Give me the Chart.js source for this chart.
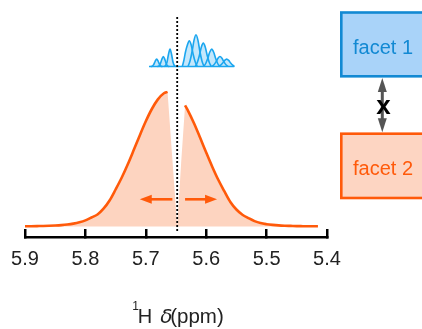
<!DOCTYPE html>
<html>
<head>
<meta charset="utf-8">
<script src="https://cdn.jsdelivr.net/npm/chart.js@4.4.1/dist/chart.umd.min.js"></script>
<style>
  html, body { margin: 0; padding: 0; background: #fff; }
  canvas { display: block; }
</style>
</head>
<body>
<canvas id="c" width="422" height="329"></canvas>
<script>
// Broad (orange) resonance: chemical shift in ppm and intensity (a.u.)
const orangePpm = [5.90, 5.89, 5.88, 5.87, 5.86, 5.85, 5.84, 5.83, 5.82, 5.81, 5.80, 5.79, 5.78, 5.77, 5.76,
  5.75, 5.74, 5.73, 5.72, 5.71, 5.70, 5.69, 5.68, 5.67, 5.664, 5.656, 5.648, 5.6415, 5.635,
  5.63, 5.62, 5.61, 5.60, 5.59, 5.58, 5.57, 5.56, 5.55, 5.54, 5.53, 5.52, 5.51, 5.50,
  5.49, 5.48, 5.47, 5.46, 5.45, 5.44, 5.43, 5.415];
const orangeIntensity = [0.2, 0.3, 0.4, 0.5, 0.7, 1.0, 1.4, 2.0, 2.9, 4.2, 6.1, 9.0, 12.0, 17.8, 26.0,
  37.0, 48.7, 62.0, 76.4, 91.1, 105.2, 117.5, 127.1, 133.2, 134.6, 67.2, 0, 63.5, 121.1,
  115.7, 103.0, 88.7, 74.0, 59.8, 46.7, 35.3, 24.5, 17.0, 11.8, 8.4, 5.4, 3.4, 2.3,
  1.6, 1.1, 0.8, 0.6, 0.4, 0.3, 0.2, 0.2];
// edges of the burned hole (no outline drawn between them)
const holeEdges = [5.664, 5.635];

// Narrow (blue) multiplet: one list of shifts and intensities per line
const blueLinePpm = [
  [5.6919, 5.6895, 5.6870, 5.6845, 5.6820, 5.6795, 5.6770, 5.6746, 5.6721],
  [5.6809, 5.6785, 5.6760, 5.6735, 5.6710, 5.6685, 5.6660, 5.6636, 5.6611],
  [5.6698, 5.6674, 5.6649, 5.6624, 5.6599, 5.6574, 5.6549, 5.6525, 5.6500],
  [5.6395, 5.6370, 5.6345, 5.6313, 5.6280, 5.6247, 5.6214, 5.6181, 5.6148],
  [5.6301, 5.6268, 5.6235, 5.6202, 5.6169, 5.6136, 5.6103, 5.6070, 5.6037],
  [5.6180, 5.6147, 5.6114, 5.6081, 5.6048, 5.6015, 5.5982, 5.5949, 5.5916],
  [5.6041, 5.6008, 5.5975, 5.5942, 5.5909, 5.5876, 5.5843, 5.5810, 5.5777],
  [5.5904, 5.5871, 5.5838, 5.5805, 5.5772, 5.5739, 5.5706, 5.5673, 5.5640],
  [5.5793, 5.5760, 5.5727, 5.5694, 5.5661, 5.5628, 5.5595, 5.5562, 5.5529]
];
const blueLineIntensity = [
  [0, 0.3, 1.8, 5.2, 7.4, 5.2, 1.8, 0.3, 0],
  [0, 0.4, 2.5, 7.1, 10.0, 7.1, 2.5, 0.4, 0],
  [0, 0.8, 4.3, 12.3, 17.4, 12.3, 4.3, 0.8, 0],
  [0, 6.0, 14.0, 21.2, 25.7, 21.2, 11.8, 4.4, 0],
  [0, 5.5, 14.5, 26.1, 31.7, 26.1, 14.5, 5.5, 0],
  [0, 4.0, 10.7, 19.3, 23.4, 19.3, 10.7, 4.0, 0],
  [0, 3.0, 8.0, 14.3, 17.4, 14.3, 8.0, 3.0, 0],
  [0, 1.7, 4.6, 8.2, 10.0, 8.2, 4.6, 1.7, 0],
  [0, 1.3, 3.4, 6.1, 7.4, 6.1, 3.4, 1.3, 0]
];
const blueBaselineSpan = [5.6947, 5.5540];
const blueOffset = 160;

// dotted marker at the irradiated frequency
const markerPpm = 5.648;
const markerSpan = [-4.5, 209.5];

// horizontal arrows (start, end) in ppm
const arrowFrom = [5.656, 5.635];
const arrowTo = [5.710, 5.582];
const arrowLevel = 27.2;

const tickValues = [5.9, 5.8, 5.7, 5.6, 5.5, 5.4];
const tickLabels = ['5.9', '5.8', '5.7', '5.6', '5.5', '5.4'];
const facetLabels = ['facet 1', 'facet 2'];
const exchangeLabel = 'x';

const ORANGE = '#ff5a0a';
const ORANGE_FILL = '#fdd4c0';
const BLUE_LINE = '#1ba6ef';
const BLUE_FILL = '#c4e7fb';
const BOX1_FILL = '#a9d3f9';
const BOX1_EDGE = '#1289d3';
const BOX2_FILL = '#fdd5c2';
const SANS = '"Liberation Sans", Arial, sans-serif';

const orangeFill = orangePpm.map((x, i) => ({ x, y: orangeIntensity[i] }));
const orangeLine = orangePpm.map((x, i) => ({
  x, y: (x < holeEdges[0] && x > holeEdges[1]) ? null : orangeIntensity[i]
}));
const markerData = markerSpan.map(y => ({ x: markerPpm, y }));

const blueSets = blueLinePpm.map((xs, k) => ({
  data: xs.map((x, i) => ({ x, y: blueLineIntensity[k][i] + blueOffset })),
  borderColor: BLUE_LINE, borderWidth: 1.6, pointRadius: 0,
  backgroundColor: BLUE_FILL, fill: { value: blueOffset }, cubicInterpolationMode: 'monotone'
}));
const blueBase = {
  data: blueBaselineSpan.map(x => ({ x, y: blueOffset })),
  borderColor: BLUE_LINE, borderWidth: 1.6, pointRadius: 0, fill: false
};

function arrowHead(ctx, x, y, dir, len, half) {
  ctx.beginPath();
  ctx.moveTo(x, y);
  ctx.lineTo(x - dir * len, y - half);
  ctx.lineTo(x - dir * len, y + half);
  ctx.closePath();
  ctx.fill();
}

const decorations = {
  id: 'decorations',
  afterDatasetsDraw(chart) {
    const ctx = chart.ctx;
    const xs = chart.scales.x, ys = chart.scales.y;
    ctx.save();
    ctx.strokeStyle = ORANGE;
    ctx.fillStyle = ORANGE;
    ctx.lineWidth = 2.6;
    const y = ys.getPixelForValue(arrowLevel);
    arrowFrom.forEach((f, i) => {
      const x0 = xs.getPixelForValue(f);
      const x1 = xs.getPixelForValue(arrowTo[i]);
      const dir = Math.sign(x1 - x0);
      ctx.beginPath();
      ctx.moveTo(x0, y);
      ctx.lineTo(x1 - dir * 10, y);
      ctx.stroke();
      arrowHead(ctx, x1, y, dir, 12, 4.5);
    });
    ctx.restore();
  },
  afterDraw(chart) {
    const ctx = chart.ctx;
    ctx.save();
    // facet boxes
    const boxes = [
      { top: 12.5, bottom: 76.3, fill: BOX1_FILL, edge: BOX1_EDGE, base: 53.5 },
      { top: 133.7, bottom: 198, fill: BOX2_FILL, edge: ORANGE, base: 175 }
    ];
    boxes.forEach((b, i) => {
      ctx.fillStyle = b.fill;
      ctx.fillRect(341.3, b.top, 120, b.bottom - b.top);
      ctx.strokeStyle = b.edge;
      ctx.lineWidth = 2.6;
      ctx.strokeRect(341.3, b.top, 120, b.bottom - b.top);
      ctx.fillStyle = b.edge;
      ctx.font = '20px ' + SANS;
      ctx.textAlign = 'center';
      ctx.textBaseline = 'alphabetic';
      ctx.fillText(facetLabels[i], 383, b.base);
    });
    // exchange double arrow
    const ax = 382.3, a0 = 78, a1 = 132.3;
    ctx.strokeStyle = '#555';
    ctx.fillStyle = '#555';
    ctx.lineWidth = 3;
    ctx.beginPath();
    ctx.moveTo(ax, a0 + 10);
    ctx.lineTo(ax, a1 - 10);
    ctx.stroke();
    ctx.beginPath();
    ctx.moveTo(ax, a0); ctx.lineTo(ax - 4.5, a0 + 14); ctx.lineTo(ax + 4.5, a0 + 14); ctx.closePath(); ctx.fill();
    ctx.beginPath();
    ctx.moveTo(ax, a1); ctx.lineTo(ax - 4.5, a1 - 14); ctx.lineTo(ax + 4.5, a1 - 14); ctx.closePath(); ctx.fill();
    ctx.fillStyle = '#000';
    ctx.font = 'bold 26px ' + SANS;
    ctx.textAlign = 'center';
    ctx.fillText(exchangeLabel, 383.5, 114);

    // axis title: superscript 1, H, italic delta, (ppm)
    ctx.fillStyle = '#222';
    ctx.textAlign = 'left';
    ctx.textBaseline = 'alphabetic';
    const parts = [
      { t: '1', f: '12px ' + SANS, x: 132.2, y: 309.5 },
      { t: 'H', f: '20px ' + SANS, x: 137.8, y: 323.3 },
      { t: 'δ', f: 'italic 20px "DejaVu Sans", sans-serif', x: 160.2, y: 323.3 },
      { t: '(ppm)', f: '20.5px ' + SANS, x: 170.2, y: 323.3 }
    ];
    parts.forEach(p => { ctx.font = p.f; ctx.fillText(p.t, p.x, p.y); });
    ctx.restore();
  }
};

new Chart(document.getElementById('c'), {
  type: 'line',
  data: {
    datasets: [
      { data: markerData, borderColor: '#000', borderWidth: 1.8, borderDash: [2, 2], pointRadius: 0, fill: false },
      { data: orangeLine, borderColor: ORANGE, borderWidth: 2.6, pointRadius: 0, fill: false,
        cubicInterpolationMode: 'monotone', spanGaps: false },
      ...blueSets,
      blueBase,
      { data: orangeFill, borderWidth: 0, borderColor: 'rgba(0,0,0,0)', pointRadius: 0,
        backgroundColor: ORANGE_FILL, fill: 'origin', tension: 0 }
    ]
  },
  options: {
    responsive: false,
    animation: false,
    parsing: false,
    layout: { padding: { left: 25, right: 95, top: 0, bottom: 0 } },
    plugins: {
      legend: { display: false },
      tooltip: { enabled: false },
      filler: { drawTime: 'beforeDatasetsDraw' }
    },
    scales: {
      x: {
        type: 'linear',
        reverse: true,
        min: 5.4,
        max: 5.9,
        afterBuildTicks(scale) { scale.ticks = tickValues.map(v => ({ value: v })); },
        afterFit(scale) { scale.height = 92; scale.paddingLeft = 0; scale.paddingRight = 0; },
        ticks: {
          padding: 18,
          color: '#222',
          font: { family: SANS, size: 20 },
          maxRotation: 0,
          callback: (v) => tickLabels[tickValues.indexOf(v)]
        },
        grid: { drawOnChartArea: false, drawTicks: true, tickLength: -8, color: '#000', lineWidth: 2.5 },
        border: { display: true, color: '#000', width: 2.5 }
      },
      y: { display: false, min: -10.5, max: 226.5 }
    }
  },
  plugins: [decorations]
});
</script>
</body>
</html>
